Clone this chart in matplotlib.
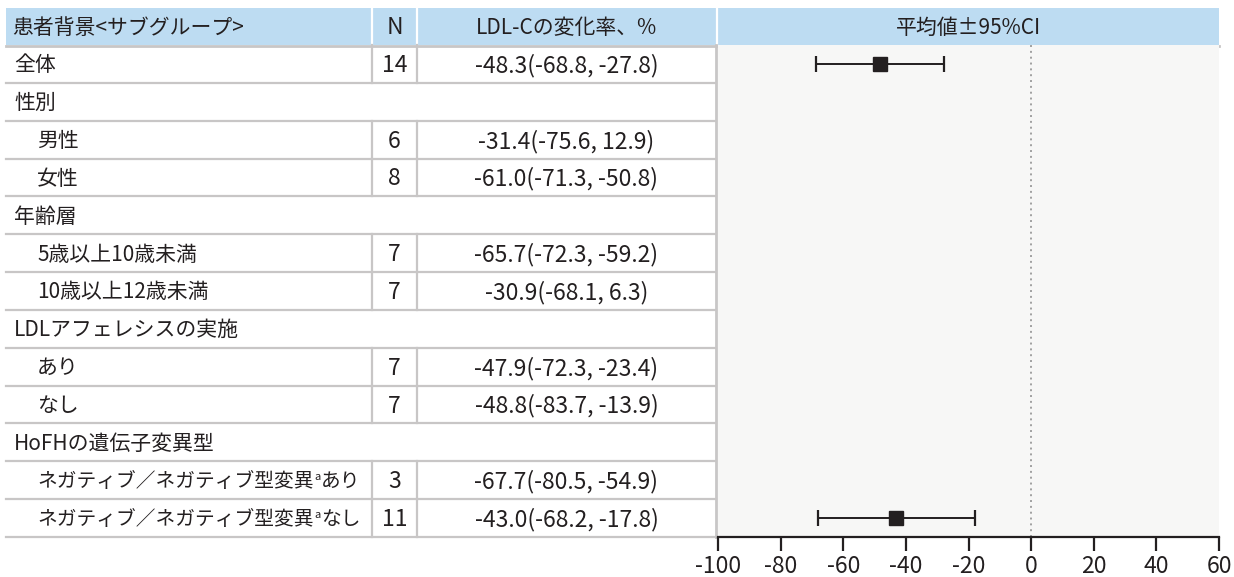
import numpy as np
import matplotlib
matplotlib.use("Agg")
import matplotlib.pyplot as plt

plt.rcParams['font.family'] = ['Noto Sans CJK JP', 'DejaVu Sans']

# table content
headers = ["患者背景<サブグループ>", "N", "LDL-Cの変化率、%", "平均値±95%CI"]
labels = ["全体", "性別", "男性", "女性", "年齢層", "5歳以上10歳未満", "10歳以上12歳未満",
          "LDLアフェレシスの実施", "あり", "なし", "HoFHの遺伝子変異型",
          "ネガティブ／ネガティブ型変異|a|あり", "ネガティブ／ネガティブ型変異|a|なし"]
is_group = [False, True, False, False, True, False, False, True, False, False, True, False, False]
indent = [0, 0, 1, 1, 0, 1, 1, 0, 1, 1, 0, 1, 1]
n_vals = [14, None, 6, 8, None, 7, 7, None, 7, 7, None, 3, 11]
means = [-48.3, None, -31.4, -61.0, None, -65.7, -30.9, None, -47.9, -48.8, None, -67.7, -43.0]
lows = [-68.8, None, -75.6, -71.3, None, -72.3, -68.1, None, -72.3, -83.7, None, -80.5, -68.2]
highs = [-27.8, None, 12.9, -50.8, None, -59.2, 6.3, None, -23.4, -13.9, None, -54.9, -17.8]
# only these rows carry a marker in the original figure
plotted = [True, False, False, False, False, False, False, False, False, False, False, False, True]
xticks = [-100, -80, -60, -40, -20, 0, 20, 40, 60]

W, H = 1234, 577
fig = plt.figure(figsize=(W / 100, H / 100), dpi=100)
renderer = fig.canvas.get_renderer()

# layout in pixels
left, c1, c2, c3 = 6, 372, 417, 716
pl, pr = 718, 1219
top, head_bot, bot = 8, 45, 537
nrows = len(labels)
rh = (bot - head_bot) / nrows

header_col = "#bddcf2"
line_col = "#c8c6c6"
text_col = "#231f20"
panel_col = "#f7f7f6"

base = fig.add_axes([0, 0, 1, 1])
base.set_xlim(0, W)
base.set_ylim(H, 0)
base.axis("off")

# header band
base.add_patch(plt.Rectangle((left, top), pr - left, head_bot - top, color=header_col, lw=0))
for xv in [c1, c2, c3 + 1]:
    base.plot([xv, xv], [top, head_bot], color="white", lw=1.6)
base.plot([left, pr], [head_bot + 1, head_bot + 1], color=line_col, lw=2)

fs = 15
fs_num = 16.5
dy = 1.5
hy = (top + head_bot) / 2 + dy
base.text(12, hy, headers[0], ha="left", va="center", fontsize=fs, color=text_col)
base.text((c1 + c2) / 2, hy, headers[1], ha="center", va="center", fontsize=fs_num, color=text_col)
base.text((c2 + c3) / 2, hy, headers[2], ha="center", va="center", fontsize=fs, color=text_col)
base.text((pl + pr) / 2, hy, headers[3], ha="center", va="center", fontsize=fs, color=text_col)


def label_text(x, y, s):
    # "|a|" marks a small superscript a
    if "|" not in s:
        base.text(x, y, s, ha="left", va="center", fontsize=fs, color=text_col)
        return
    p1, sup, p2 = s.split("|")
    size = 14.2  # the long labels are a bit tighter so they stay inside the column
    t = base.text(x, y, p1, ha="left", va="center", fontsize=size, color=text_col)
    x += t.get_window_extent(renderer).width
    t = base.text(x + 0.5, y - 5, sup, ha="left", va="center", fontsize=8, color=text_col)
    x += t.get_window_extent(renderer).width + 1
    base.text(x, y, p2, ha="left", va="center", fontsize=size, color=text_col)


for i, lab in enumerate(labels):
    y0 = head_bot + i * rh
    y1 = y0 + rh
    yc = (y0 + y1) / 2 + dy
    base.plot([left, c3], [y1, y1], color=line_col, lw=1.6)
    if not is_group[i]:
        base.plot([c1, c1], [y0, y1], color=line_col, lw=1.6)
        base.plot([c2, c2], [y0, y1], color=line_col, lw=1.6)
        base.text((c1 + c2) / 2, yc, str(n_vals[i]), ha="center", va="center", fontsize=fs_num, color=text_col)
        val = f"{means[i]:.1f}({lows[i]:.1f}, {highs[i]:.1f})"
        base.text((c2 + c3) / 2, yc, val, ha="center", va="center", fontsize=fs_num, color=text_col)
    label_text(14 + 23 * indent[i], yc, lab)

base.plot([c3, c3], [head_bot, bot], color=line_col, lw=2)

# forest panel
ax = fig.add_axes([pl / W, 1 - bot / H, (pr - pl) / W, (bot - head_bot) / H])
ax.set_facecolor(panel_col)
ax.set_xlim(-100, 60)
ax.set_ylim(nrows, 0)
ax.axvline(0, color="#a0a0a0", lw=1.4, ls=(0, (1, 2)))
for i in range(nrows):
    if plotted[i]:
        m = means[i]
        ax.errorbar([m], [i + 0.5], xerr=[[m - lows[i]], [highs[i] - m]], fmt="s",
                    color=text_col, ms=10, capsize=6, capthick=1.6, elinewidth=1.4)

for s in ["top", "right", "left"]:
    ax.spines[s].set_visible(False)
ax.spines["bottom"].set_color(text_col)
ax.spines["bottom"].set_linewidth(1.6)
ax.set_yticks([])
ax.set_xticks(xticks)
ax.set_xticklabels([str(t) for t in xticks])
ax.tick_params(axis="x", length=10, width=1.6, color=text_col, labelsize=16.5,
               labelcolor=text_col, pad=3)

fig.savefig("out.png", dpi=100)
